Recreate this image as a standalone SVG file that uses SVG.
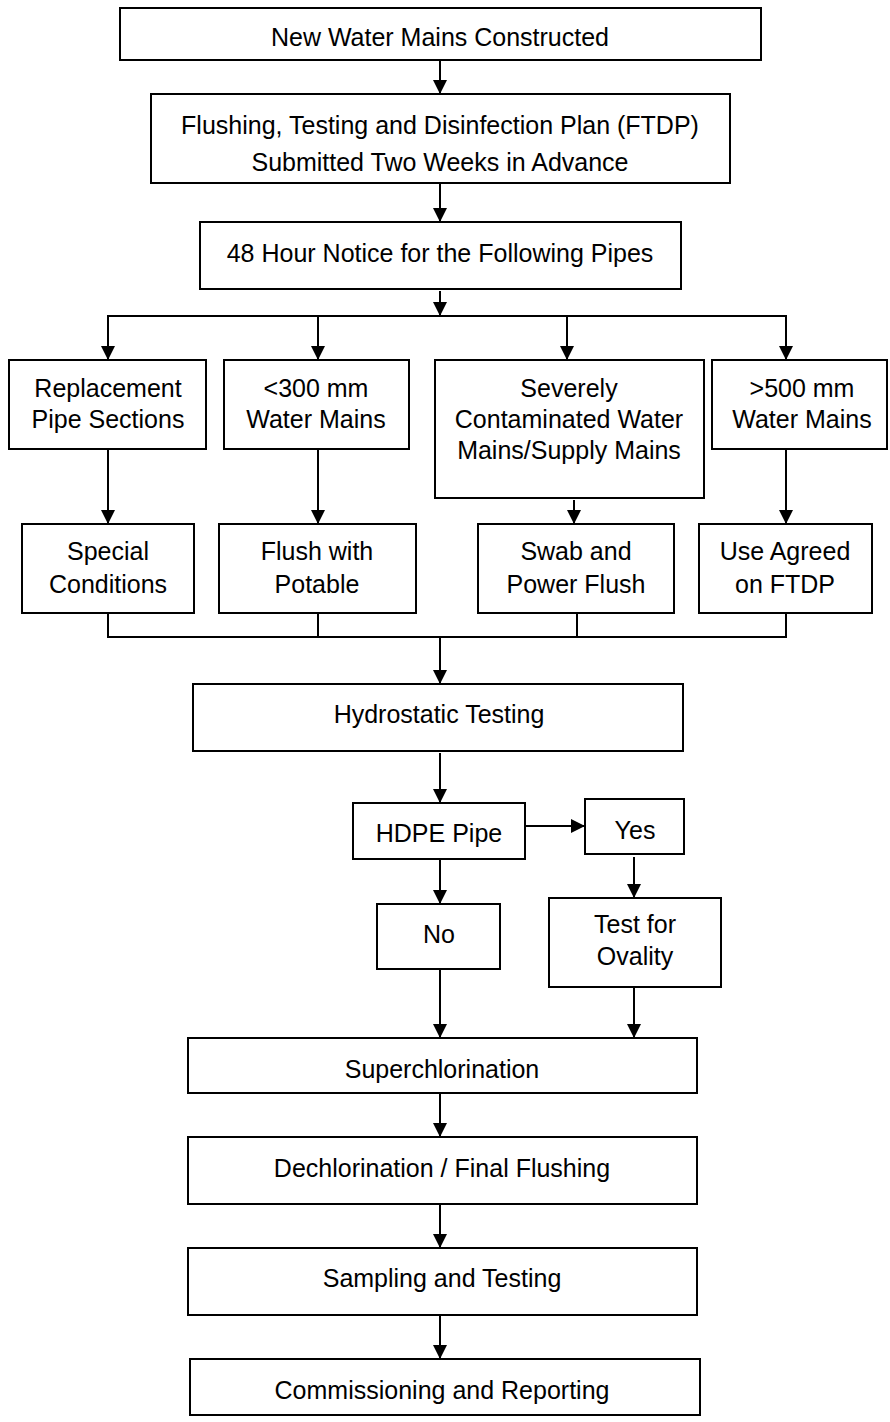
<svg xmlns="http://www.w3.org/2000/svg" width="890" height="1422" viewBox="0 0 890 1422">
<style>
.box{fill:#fff;stroke:#000;stroke-width:2}
.t{font-family:"Liberation Sans",Arial,sans-serif;font-size:25px;fill:#000;text-anchor:middle}
.c{fill:none;stroke:#000;stroke-width:2}
</style>
<defs>
<marker id="ah" markerUnits="userSpaceOnUse" markerWidth="14" markerHeight="14" refX="14" refY="7" orient="auto">
<path d="M0,0 L14,7 L0,14 z" fill="#000"/>
</marker>
</defs>
<rect width="890" height="1422" fill="#fff"/>
<g id="connectors">
<line class="c" x1="440" y1="60" x2="440" y2="94" marker-end="url(#ah)"/>
<line class="c" x1="440" y1="183" x2="440" y2="222" marker-end="url(#ah)"/>
<line class="c" x1="440" y1="291" x2="440" y2="316" marker-end="url(#ah)"/>
<line class="c" x1="107" y1="316" x2="787" y2="316"/>
<line class="c" x1="108" y1="316" x2="108" y2="360" marker-end="url(#ah)"/>
<line class="c" x1="318" y1="316" x2="318" y2="360" marker-end="url(#ah)"/>
<line class="c" x1="567" y1="316" x2="567" y2="360" marker-end="url(#ah)"/>
<line class="c" x1="786" y1="316" x2="786" y2="360" marker-end="url(#ah)"/>
<line class="c" x1="108" y1="449" x2="108" y2="524" marker-end="url(#ah)"/>
<line class="c" x1="318" y1="449" x2="318" y2="524" marker-end="url(#ah)"/>
<line class="c" x1="574" y1="500" x2="574" y2="524" marker-end="url(#ah)"/>
<line class="c" x1="786" y1="449" x2="786" y2="524" marker-end="url(#ah)"/>
<path class="c" d="M108,613 V637 M318,613 V637 M577,613 V637 M786,613 V637 M107,637 H787"/>
<line class="c" x1="440" y1="637" x2="440" y2="684" marker-end="url(#ah)"/>
<line class="c" x1="440" y1="753" x2="440" y2="803" marker-end="url(#ah)"/>
<line class="c" x1="525" y1="826" x2="585" y2="826" marker-end="url(#ah)"/>
<line class="c" x1="634" y1="857" x2="634" y2="898" marker-end="url(#ah)"/>
<line class="c" x1="440" y1="859" x2="440" y2="904" marker-end="url(#ah)"/>
<line class="c" x1="440" y1="969" x2="440" y2="1038" marker-end="url(#ah)"/>
<line class="c" x1="634" y1="987" x2="634" y2="1038" marker-end="url(#ah)"/>
<line class="c" x1="440" y1="1093" x2="440" y2="1137" marker-end="url(#ah)"/>
<line class="c" x1="440" y1="1204" x2="440" y2="1248" marker-end="url(#ah)"/>
<line class="c" x1="440" y1="1315" x2="440" y2="1359" marker-end="url(#ah)"/>
</g>
<g id="n1"><rect class="box" x="120" y="8" width="641" height="52"/><text class="t" x="440" y="46">New Water Mains Constructed</text></g>
<g id="n2"><rect class="box" x="151" y="94" width="579" height="89"/><text class="t" x="440" y="134">Flushing, Testing and Disinfection Plan (FTDP)</text><text class="t" x="440" y="171">Submitted Two Weeks in Advance</text></g>
<g id="n3"><rect class="box" x="200" y="222" width="481" height="67"/><text class="t" x="440" y="262">48 Hour Notice for the Following Pipes</text></g>
<g id="a"><rect class="box" x="9" y="360" width="197" height="89"/><text class="t" x="108" y="397">Replacement</text><text class="t" x="108" y="428">Pipe Sections</text></g>
<g id="b"><rect class="box" x="224" y="360" width="185" height="89"/><text class="t" x="316" y="397">&lt;300 mm</text><text class="t" x="316" y="428">Water Mains</text></g>
<g id="c"><rect class="box" x="435" y="360" width="269" height="138"/><text class="t" x="569" y="397">Severely</text><text class="t" x="569" y="428">Contaminated Water</text><text class="t" x="569" y="459">Mains/Supply Mains</text></g>
<g id="d"><rect class="box" x="712" y="360" width="175" height="89"/><text class="t" x="802" y="397">&gt;500 mm</text><text class="t" x="802" y="428">Water Mains</text></g>
<g id="e"><rect class="box" x="22" y="524" width="172" height="89"/><text class="t" x="108" y="560">Special</text><text class="t" x="108" y="593">Conditions</text></g>
<g id="f"><rect class="box" x="219" y="524" width="197" height="89"/><text class="t" x="317" y="560">Flush with</text><text class="t" x="317" y="593">Potable</text></g>
<g id="g"><rect class="box" x="478" y="524" width="196" height="89"/><text class="t" x="576" y="560">Swab and</text><text class="t" x="576" y="593">Power Flush</text></g>
<g id="h"><rect class="box" x="699" y="524" width="173" height="89"/><text class="t" x="785" y="560">Use Agreed</text><text class="t" x="785" y="593">on FTDP</text></g>
<g id="hydro"><rect class="box" x="193" y="684" width="490" height="67"/><text class="t" x="439" y="723">Hydrostatic Testing</text></g>
<g id="hdpe"><rect class="box" x="353" y="803" width="172" height="56"/><text class="t" x="439" y="842">HDPE Pipe</text></g>
<g id="yes"><rect class="box" x="585" y="799" width="99" height="55"/><text class="t" x="635" y="839">Yes</text></g>
<g id="no"><rect class="box" x="377" y="904" width="123" height="65"/><text class="t" x="439" y="943">No</text></g>
<g id="oval"><rect class="box" x="549" y="898" width="172" height="89"/><text class="t" x="635" y="933">Test for</text><text class="t" x="635" y="965">Ovality</text></g>
<g id="super"><rect class="box" x="188" y="1038" width="509" height="55"/><text class="t" x="442" y="1078">Superchlorination</text></g>
<g id="dechlor"><rect class="box" x="188" y="1137" width="509" height="67"/><text class="t" x="442" y="1177">Dechlorination / Final Flushing</text></g>
<g id="sampling"><rect class="box" x="188" y="1248" width="509" height="67"/><text class="t" x="442" y="1287">Sampling and Testing</text></g>
<g id="comm"><rect class="box" x="190" y="1359" width="510" height="56"/><text class="t" x="442" y="1399">Commissioning and Reporting</text></g>
</svg>
